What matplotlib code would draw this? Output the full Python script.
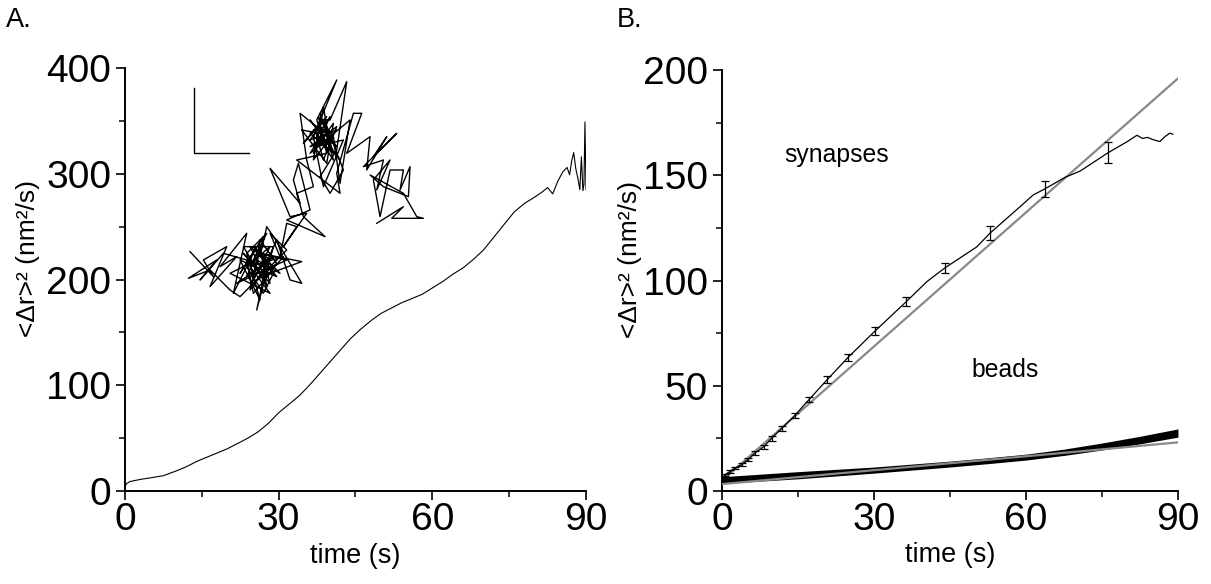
import matplotlib
matplotlib.use("Agg")
import matplotlib.pyplot as plt
from matplotlib import font_manager
from matplotlib.ticker import MultipleLocator

plt.rcParams['font.family'] = ['Liberation Sans', 'DejaVu Sans']

# the original figure looks squeezed sideways, so horizontal text uses a narrow face
installed = {f.name for f in font_manager.fontManager.ttflist}
if 'Liberation Sans Narrow' in installed:
    NARROW = ['Liberation Sans Narrow', 'Liberation Sans', 'DejaVu Sans']
    nscale = 1.0
else:
    NARROW = ['Liberation Sans', 'DejaVu Sans']
    nscale = 0.85

# panel A: mean square displacement of one synapse
t_a = [0, 0.3, 1, 3, 5, 7.5, 10, 12, 14, 16, 18, 20, 22, 24, 26, 28, 30, 32, 34, 36,
       38, 40, 42, 44, 46, 48, 50, 52, 54, 56, 58, 60, 62, 64, 66, 68, 70, 72, 74, 76,
       78, 80, 81.5, 82.5, 83.5, 84.5, 85.5, 86.3, 86.8, 87.2, 87.6, 88.0, 88.4, 88.8,
       89.1, 89.4, 89.6, 89.8, 90]
msd_a = [4, 7, 9, 11, 12.5, 14.5, 19, 23, 28, 32, 36, 40, 45, 50, 56, 64, 74, 82, 90, 100,
         111, 122, 133, 144, 153, 161, 168, 173, 178, 182, 186, 192, 198, 205, 211, 219, 228, 240, 252, 264,
         272, 278, 283, 287, 281, 293, 302, 306, 299, 312, 320, 305, 296, 285,
         316, 284, 290, 349, 285]

# inset trajectory (arbitrary position units)
traj_x = [60, 130, 100, 170, 120, 200, 150, 230, 190, 260, 210, 280, 240, 300, 250, 320, 210, 270, 230, 290,
          250, 290, 270, 230, 310, 260, 220, 300, 280, 240, 320, 270, 250, 300, 230, 280, 310, 260,
          330, 260, 180, 300, 240, 340, 280, 220, 310, 260, 290, 200, 350, 270, 395, 300, 250, 230, 160, 90,
          140, 55, 120, 180, 210, 270, 320, 360, 395, 330, 290, 270, 310, 240, 280, 350, 300,
          330, 350, 380, 340, 410, 360, 300, 390, 370, 385, 420, 350, 465, 400, 380, 430, 410,
          390, 440, 400, 470, 420, 500, 430, 460, 480, 420, 510, 450, 395, 470, 490, 440, 520, 460, 430, 500,
          440, 470, 430, 490, 450, 480, 420, 500, 460, 440, 480, 430, 470, 500, 450, 420, 490, 460,
          480, 530, 500, 450, 480, 520, 470, 420, 540, 510, 490, 445, 470, 380, 510, 500, 550, 575, 530,
          600, 590, 650, 610, 680, 580, 640, 620, 660, 610, 630, 660, 700, 690, 720, 715, 640, 600, 700, 740,
          760, 665, 700, 620]
traj_y = [575, 650, 600, 560, 680, 590, 620, 520, 700, 560, 640, 530, 690, 600, 560, 650, 600, 720, 580, 520,
          600, 680, 560, 650, 590, 630, 580, 670, 600, 680, 610, 540, 660, 560, 620, 700, 640, 570,
          640, 600, 640, 700, 620, 590, 660, 560, 560, 750, 610, 670, 600, 580, 605, 640, 700, 600, 580, 660,
          600, 655, 630, 690, 710, 650, 540, 660, 670, 560, 500, 590, 620, 560, 640, 570, 520,
          590, 490, 500, 560, 460, 470, 325, 430, 360, 310, 450, 480, 530, 470, 400, 380, 300,
          160, 200, 250, 170, 240, 210, 300, 140, 260, 180, 300, 220, 210, 310, 190, 260, 240, 380, 230, 60,
          180, 260, 210, 300, 160, 240, 260, 200, 300, 230, 170, 280, 220, 260, 200, 220, 280, 180,
          180, 65, 270, 350, 400, 330, 200, 280, 180, 370, 230, 170, 280, 300, 400, 340, 160, 160, 280,
          230, 330, 230, 290, 220, 320, 300, 390, 300, 360, 470, 330, 330, 390, 320, 410, 380, 345, 400, 470,
          475, 475, 440, 490]
bar_x = [72, 72, 238]
bar_y = [85, 280, 280]

# panel B: synapses (mean with error bars) and beads
t_syn = [0, 0.6, 1.6, 2.6, 3.9, 5.2, 6.5, 8.2, 9.8, 11.8, 14.4, 17.2, 20.8, 24.9, 30.2, 36.4, 40.4, 44,
         50.3, 52.9, 58.8, 61.4, 63.7, 67.7, 70.7, 76.2, 80, 81.9, 83, 84, 85, 86.4, 87.5, 88.4, 89]
msd_syn = [5, 7.8, 9.3, 10.9, 12.5, 15, 18, 21, 25, 29.8, 36, 43.5, 53, 63.5, 76, 90, 99.4, 106,
           116, 122.5, 135, 140.6, 143.5, 149, 152, 160.7, 166, 169, 167.5, 168, 167, 166, 168.5, 170, 169.5]
t_err = [0.6, 1.6, 2.6, 3.9, 5.2, 6.5, 8.2, 9.8, 11.8, 14.4, 17.2, 20.8, 24.9, 30.2, 36.4, 44, 52.9, 63.7, 76.2]
msd_err = [7.8, 9.3, 10.9, 12.5, 15, 18, 21, 25, 29.8, 36, 43.5, 53, 63.5, 76, 90, 106, 122.5, 143.5, 160.7]
sem_err = [0.5, 0.5, 0.6, 0.7, 0.8, 0.9, 1.0, 1.0, 1.1, 1.2, 1.3, 1.5, 1.6, 1.8, 2.2, 2.5, 3.2, 4.0, 5.0]

t_bead = [0, 15, 30, 45, 52.5, 60, 67.5, 75, 82.5, 90]
bead_lo = [3.6, 5.8, 8.5, 11.4, 13.0, 14.7, 16.9, 19.5, 22.4, 25.6]
bead_hi = [6.8, 9.2, 11.4, 14.2, 15.8, 17.5, 19.9, 22.8, 26.0, 29.5]

t_fit = [0, 90]
syn_fit = [5, 196]
bead_fit = [3.3, 23.1]

fig = plt.figure(figsize=(12.11, 5.84), dpi=100)
axA = fig.add_axes([0.1032, 0.1592, 0.3807, 0.7243])
axB = fig.add_axes([0.5962, 0.1592, 0.3765, 0.7209])

def style(ax, ymax, ymaj, ylx):
    ax.set_xlim(0, 90)
    ax.set_ylim(0, ymax)
    ax.spines['top'].set_visible(False)
    ax.spines['right'].set_visible(False)
    for s in ('left', 'bottom'):
        ax.spines[s].set_linewidth(1.4)
    ax.xaxis.set_major_locator(MultipleLocator(30))
    ax.xaxis.set_minor_locator(MultipleLocator(15))
    ax.yaxis.set_major_locator(MultipleLocator(ymaj))
    ax.yaxis.set_minor_locator(MultipleLocator(ymaj / 2))
    ax.tick_params(which='major', length=6.5, width=1.2)
    ax.tick_params(which='minor', length=4, width=1.1)
    ax.tick_params(axis='x', which='major', pad=1.5)
    ax.tick_params(axis='y', which='major', pad=3.5)
    for lab in ax.get_xticklabels() + ax.get_yticklabels():
        lab.set_family(NARROW)
        lab.set_fontsize(33 * nscale)
    ax.set_xlabel('time (s)', fontsize=23 * nscale, family=NARROW)
    ax.set_ylabel('<Δr>² (nm²/s)', fontsize=19)
    ax.xaxis.set_label_coords(0.5, -0.122)
    ax.yaxis.set_label_coords(ylx, 0.55)

style(axA, 400, 100, -0.184)
axA.plot(t_a, msd_a, color='black', lw=0.8)

ins = fig.add_axes([0.1404, 0.4521, 0.223, 0.4452])
ins.plot(traj_x, traj_y, color='black', lw=1.0)
ins.plot(bar_x, bar_y, color='black', lw=1.0)
ins.set_xlim(0, 810)
ins.set_ylim(780, 0)
ins.axis('off')

style(axB, 200, 50, -0.176)
axB.plot(t_fit, syn_fit, color='#888888', lw=1.6, zorder=2)
axB.plot(t_syn, msd_syn, color='black', lw=0.9, zorder=3)
axB.errorbar(t_err, msd_err, yerr=sem_err, fmt='none', ecolor='black', elinewidth=0.9,
             capsize=3, capthick=0.9, zorder=3)
axB.fill_between(t_bead, bead_lo, bead_hi, color='black', lw=0, zorder=2)
axB.plot(t_fit, bead_fit, color='#888888', lw=1.6, zorder=4)
axB.text(22.7, 159.6, 'synapses', fontsize=21 * nscale, family=NARROW, ha='center', va='center')
axB.text(55.9, 57.5, 'beads', fontsize=21 * nscale, family=NARROW, ha='center', va='center')

fig.text(0.005, 0.966, 'A.', fontsize=23 * nscale, family=NARROW, va='center')
fig.text(0.509, 0.966, 'B.', fontsize=23 * nscale, family=NARROW, va='center')

fig.savefig('out.png', dpi=100)
